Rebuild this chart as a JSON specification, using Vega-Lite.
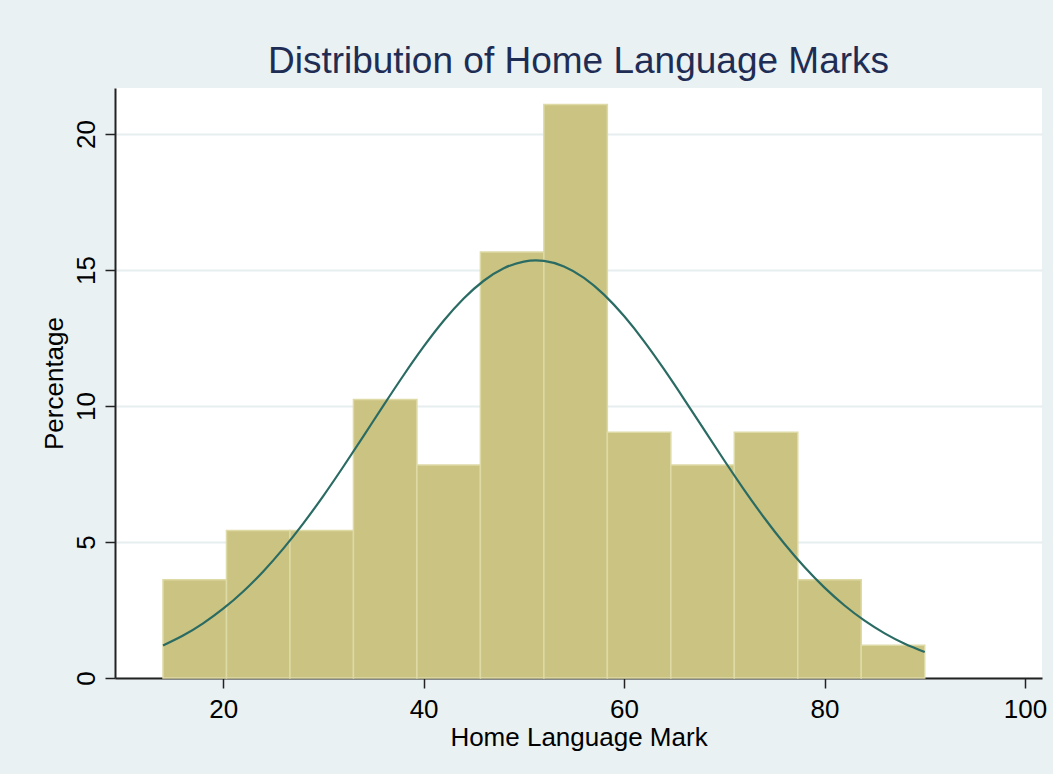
{
  "$schema": "https://vega.github.io/schema/vega-lite/v6.json",
  "width": 927,
  "height": 590,
  "autosize": "none",
  "padding": {"left": 115, "top": 88, "right": 11, "bottom": 96},
  "background": "#E9F1F3",
  "config": {
    "view": {"fill": "white", "stroke": null},
    "font": "Liberation Sans"
  },
  "title": {
    "text": "Distribution of Home Language Marks",
    "fontSize": 37,
    "fontWeight": "normal",
    "color": "#1F2D55",
    "font": "Liberation Sans",
    "anchor": "middle",
    "offset": 7
  },
  "datasets": {
    "bins": [
      {"bin_start": 14.0, "bin_end": 20.333, "percent": 3.614},
      {"bin_start": 20.333, "bin_end": 26.667, "percent": 5.422},
      {"bin_start": 26.667, "bin_end": 33.0, "percent": 5.422},
      {"bin_start": 33.0, "bin_end": 39.333, "percent": 10.241},
      {"bin_start": 39.333, "bin_end": 45.667, "percent": 7.831},
      {"bin_start": 45.667, "bin_end": 52.0, "percent": 15.663},
      {"bin_start": 52.0, "bin_end": 58.333, "percent": 21.084},
      {"bin_start": 58.333, "bin_end": 64.667, "percent": 9.036},
      {"bin_start": 64.667, "bin_end": 71.0, "percent": 7.831},
      {"bin_start": 71.0, "bin_end": 77.333, "percent": 9.036},
      {"bin_start": 77.333, "bin_end": 83.667, "percent": 3.614},
      {"bin_start": 83.667, "bin_end": 90.0, "percent": 1.205}
    ],
    "curve": [
      {"mark": 14, "density": 1.194},
      {"mark": 16, "density": 1.560},
      {"mark": 18, "density": 2.008},
      {"mark": 20, "density": 2.547},
      {"mark": 22, "density": 3.182},
      {"mark": 24, "density": 3.919},
      {"mark": 26, "density": 4.756},
      {"mark": 28, "density": 5.686},
      {"mark": 30, "density": 6.697},
      {"mark": 32, "density": 7.775},
      {"mark": 34, "density": 8.892},
      {"mark": 36, "density": 10.022},
      {"mark": 38, "density": 11.130},
      {"mark": 40, "density": 12.179},
      {"mark": 42, "density": 13.132},
      {"mark": 44, "density": 13.950},
      {"mark": 46, "density": 14.604},
      {"mark": 48, "density": 15.063},
      {"mark": 50, "density": 15.309},
      {"mark": 52, "density": 15.332},
      {"mark": 54, "density": 15.129},
      {"mark": 56, "density": 14.711},
      {"mark": 58, "density": 14.094},
      {"mark": 60, "density": 13.305},
      {"mark": 62, "density": 12.378},
      {"mark": 64, "density": 11.345},
      {"mark": 66, "density": 10.246},
      {"mark": 68, "density": 9.119},
      {"mark": 70, "density": 7.996},
      {"mark": 72, "density": 6.909},
      {"mark": 74, "density": 5.882},
      {"mark": 76, "density": 4.934},
      {"mark": 78, "density": 4.078},
      {"mark": 80, "density": 3.322},
      {"mark": 82, "density": 2.666},
      {"mark": 84, "density": 2.108},
      {"mark": 86, "density": 1.642},
      {"mark": 88, "density": 1.262},
      {"mark": 90, "density": 0.955}
    ]
  },
  "layer": [
    {
      "data": {"name": "bins"},
      "mark": {"type": "rect", "fill": "#CBC381", "stroke": "#DEDAA6", "strokeWidth": 1.5},
      "encoding": {
        "x": {
          "field": "bin_start",
          "type": "quantitative",
          "scale": {"domain": [9.21, 101.7], "nice": false, "zero": false},
          "axis": {
            "values": [20, 40, 60, 80, 100],
            "title": "Home Language Mark",
            "titleFontSize": 26,
            "titleFontWeight": "normal",
            "titleColor": "#000000",
            "titlePadding": 2,
            "labelFontSize": 26,
            "labelColor": "#000000",
            "labelPadding": 8,
            "tickSize": 10,
            "tickWidth": 1.5,
            "tickColor": "#222222",
            "domainColor": "#222222",
            "domainWidth": 2,
            "grid": false,
            "labelFlush": false
          }
        },
        "x2": {"field": "bin_end"},
        "y": {
          "field": "percent",
          "type": "quantitative",
          "scale": {"domain": [0, 21.69], "nice": false},
          "axis": {
            "values": [0, 5, 10, 15, 20],
            "title": "Percentage",
            "titleFontSize": 26,
            "titleFontWeight": "normal",
            "titleColor": "#000000",
            "titlePadding": 6,
            "labelFontSize": 26,
            "labelColor": "#000000",
            "labelAngle": -90,
            "labelAlign": "center",
            "labelBaseline": "bottom",
            "labelPadding": 6,
            "tickSize": 10,
            "tickWidth": 1.5,
            "tickColor": "#222222",
            "domainColor": "#222222",
            "domainWidth": 2,
            "grid": true,
            "gridColor": "#E6EEF0",
            "gridWidth": 2,
            "labelFlush": false
          }
        },
        "y2": {"datum": 0}
      }
    },
    {
      "data": {"name": "curve"},
      "mark": {"type": "line", "stroke": "#2A6B63", "strokeWidth": 2.2, "interpolate": "natural"},
      "encoding": {
        "x": {"field": "mark", "type": "quantitative"},
        "y": {"field": "density", "type": "quantitative"}
      }
    }
  ]
}
